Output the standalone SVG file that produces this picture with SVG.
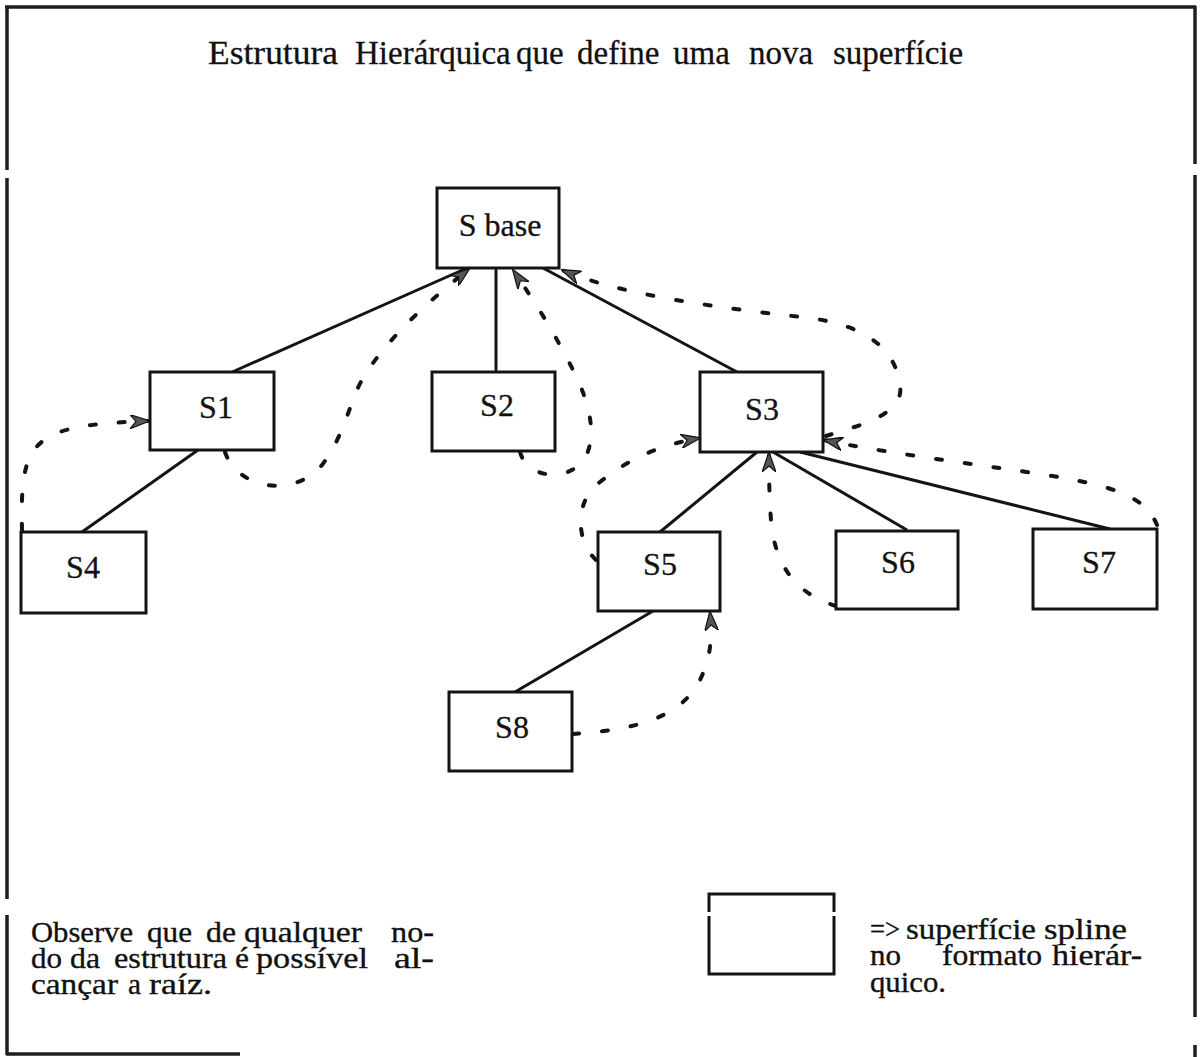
<svg xmlns="http://www.w3.org/2000/svg" width="1202" height="1057" viewBox="0 0 1202 1057">
  <style>
    .frame { stroke: #1e1e1e; stroke-width: 3.5; fill: none; }
    .box { fill: #ffffff; stroke: #141414; stroke-width: 3; }
    .label { font-family: "Liberation Serif", "Times New Roman", serif; font-size: 32px; fill: #111; text-anchor: middle; stroke: #111; stroke-width: 0.3; }
    .txt { font-family: "Liberation Serif", "Times New Roman", serif; font-size: 30px; fill: #111; stroke: #111; stroke-width: 0.35; }
    .title { font-family: "Liberation Serif", "Times New Roman", serif; font-size: 33px; fill: #111; stroke: #111; stroke-width: 0.3; }
    .edge { stroke: #141414; stroke-width: 3; fill: none; }
    .path { stroke: #141414; stroke-width: 4; fill: none; stroke-dasharray: 6 23; stroke-linecap: round; marker-end: url(#arrow); }
  </style>
  <defs>
    <marker id="arrow" viewBox="0 0 20 14" refX="19" refY="7" markerWidth="20" markerHeight="14" markerUnits="userSpaceOnUse" orient="auto">
      <path d="M0,0 L20,7 L0,14 L6,7 Z" fill="#555" stroke="#111" stroke-width="1.2" stroke-linejoin="round"/>
    </marker>
  </defs>

  <rect width="1202" height="1057" fill="#ffffff"/>

  <!-- page frame, broken where the sheet is joined -->
  <g id="frame">
    <line class="frame" x1="5" y1="7" x2="1196" y2="7"/>
    <line class="frame" x1="7" y1="6" x2="7" y2="170"/>
    <line class="frame" x1="7" y1="178" x2="7" y2="899"/>
    <line class="frame" x1="7" y1="915" x2="7" y2="1055"/>
    <line class="frame" x1="6" y1="1054" x2="240" y2="1054" stroke="#555" stroke-width="2.5"/>
    <line class="frame" x1="1195" y1="6" x2="1195" y2="164"/>
    <line class="frame" x1="1195" y1="175" x2="1195" y2="1017"/>
    <line class="frame" x1="1195" y1="1045" x2="1195" y2="1057"/>
  </g>

  <text id="title" class="title" y="64"><tspan x="208" textLength="130" lengthAdjust="spacingAndGlyphs">Estrutura</tspan><tspan x="355">Hierárquica</tspan><tspan x="516">que</tspan><tspan x="577">define</tspan><tspan x="673">uma</tspan><tspan x="749">nova</tspan><tspan x="833">superfície</tspan></text>

  <g id="connectors">
    <!-- tree edges -->
    <line class="edge" x1="467" y1="268" x2="230" y2="373"/>
    <line class="edge" x1="496" y1="268" x2="496" y2="372"/>
    <line class="edge" x1="543" y1="268" x2="737" y2="372"/>
    <line class="edge" x1="198" y1="450" x2="82" y2="532"/>
    <line class="edge" x1="757" y1="452" x2="660" y2="532"/>
    <line class="edge" x1="773" y1="452" x2="907" y2="530"/>
    <line class="edge" x1="800" y1="452" x2="1110" y2="529" stroke="#333"/>
    <line class="edge" x1="653" y1="611" x2="515" y2="692"/>
    <!-- dashed paths climbing toward the root -->
    <path class="path" d="M22,530 C20,440 30,425 149,421"/>
    <path class="path" d="M225,452 C238,490 295,498 322,465 C345,435 350,400 362,380 C385,340 430,300 469,269"/>
    <path class="path" d="M520,452 C528,480 570,482 585,458 C600,430 585,390 565,355 C550,325 530,295 513,270"/>
    <path class="path" d="M826,436 C860,425 905,415 900,385 C895,345 860,325 810,318 C720,308 620,295 562,270"/>
    <path class="path" d="M596,560 C575,540 575,500 600,482 C630,458 660,445 700,438"/>
    <path class="path" d="M836,606 C800,595 775,570 771,520 C769,495 769,470 769,453"/>
    <path class="path" d="M1157,525 C1145,495 1110,485 1040,474 C960,462 880,452 824,440"/>
    <path class="path" d="M573,734 C630,730 680,720 700,680 C712,655 712,635 710,612"/>
  </g>

  <g id="node-sbase"><rect class="box" x="437" y="188" width="122" height="80"/><text class="label" x="500" y="236">S base</text></g>
  <g id="node-s1"><rect class="box" x="150" y="372" width="124" height="78"/><text class="label" x="216" y="418">S1</text></g>
  <g id="node-s2"><rect class="box" x="432" y="372" width="123" height="79"/><text class="label" x="497" y="416">S2</text></g>
  <g id="node-s3"><rect class="box" x="700" y="372" width="123" height="80"/><text class="label" x="762" y="420">S3</text></g>
  <g id="node-s4"><rect class="box" x="21" y="532" width="125" height="81"/><text class="label" x="83" y="578">S4</text></g>
  <g id="node-s5"><rect class="box" x="598" y="532" width="122" height="79"/><text class="label" x="660" y="575">S5</text></g>
  <g id="node-s6"><rect class="box" x="836" y="531" width="122" height="78"/><text class="label" x="898" y="573">S6</text></g>
  <g id="node-s7"><rect class="box" x="1033" y="529" width="124" height="80"/><text class="label" x="1099" y="573">S7</text></g>
  <g id="node-s8"><rect class="box" x="449" y="692" width="123" height="79"/><text class="label" x="512" y="738">S8</text></g>

  <g id="note">
    <text class="txt" y="942"><tspan x="31" textLength="102" lengthAdjust="spacingAndGlyphs">Observe</tspan><tspan x="147" textLength="45" lengthAdjust="spacingAndGlyphs">que</tspan><tspan x="206" textLength="30" lengthAdjust="spacingAndGlyphs">de</tspan><tspan x="244" textLength="118" lengthAdjust="spacingAndGlyphs">qualquer</tspan><tspan x="391" textLength="43" lengthAdjust="spacingAndGlyphs">no-</tspan></text>
    <text class="txt" y="968"><tspan x="31" textLength="31" lengthAdjust="spacingAndGlyphs">do</tspan><tspan x="70" textLength="30" lengthAdjust="spacingAndGlyphs">da</tspan><tspan x="114" textLength="113" lengthAdjust="spacingAndGlyphs">estrutura</tspan><tspan x="235" textLength="14" lengthAdjust="spacingAndGlyphs">é</tspan><tspan x="256" textLength="112" lengthAdjust="spacingAndGlyphs">possível</tspan><tspan x="394" textLength="40" lengthAdjust="spacingAndGlyphs">al-</tspan></text>
    <text class="txt" y="994"><tspan x="31" textLength="87" lengthAdjust="spacingAndGlyphs">cançar</tspan><tspan x="128" textLength="13" lengthAdjust="spacingAndGlyphs">a</tspan><tspan x="149" textLength="63" lengthAdjust="spacingAndGlyphs">raíz.</tspan></text>
  </g>

  <g id="legend">
    <rect class="box" x="709" y="894" width="125" height="80"/>
    <line x1="709" y1="912" x2="709" y2="916" stroke="#fff" stroke-width="5"/>
    <line x1="834" y1="912" x2="834" y2="916" stroke="#fff" stroke-width="5"/>
    <text class="txt" y="939"><tspan x="870" textLength="30" lengthAdjust="spacingAndGlyphs">=&gt;</tspan><tspan x="906" textLength="130" lengthAdjust="spacingAndGlyphs">superfície</tspan><tspan x="1044" textLength="83" lengthAdjust="spacingAndGlyphs">spline</tspan></text>
    <text class="txt" y="965"><tspan x="870" textLength="31" lengthAdjust="spacingAndGlyphs">no</tspan><tspan x="942" textLength="100" lengthAdjust="spacingAndGlyphs">formato</tspan><tspan x="1052" textLength="90" lengthAdjust="spacingAndGlyphs">hierár-</tspan></text>
    <text class="txt" y="992"><tspan x="870" textLength="76" lengthAdjust="spacingAndGlyphs">quico.</tspan></text>
  </g>
</svg>
